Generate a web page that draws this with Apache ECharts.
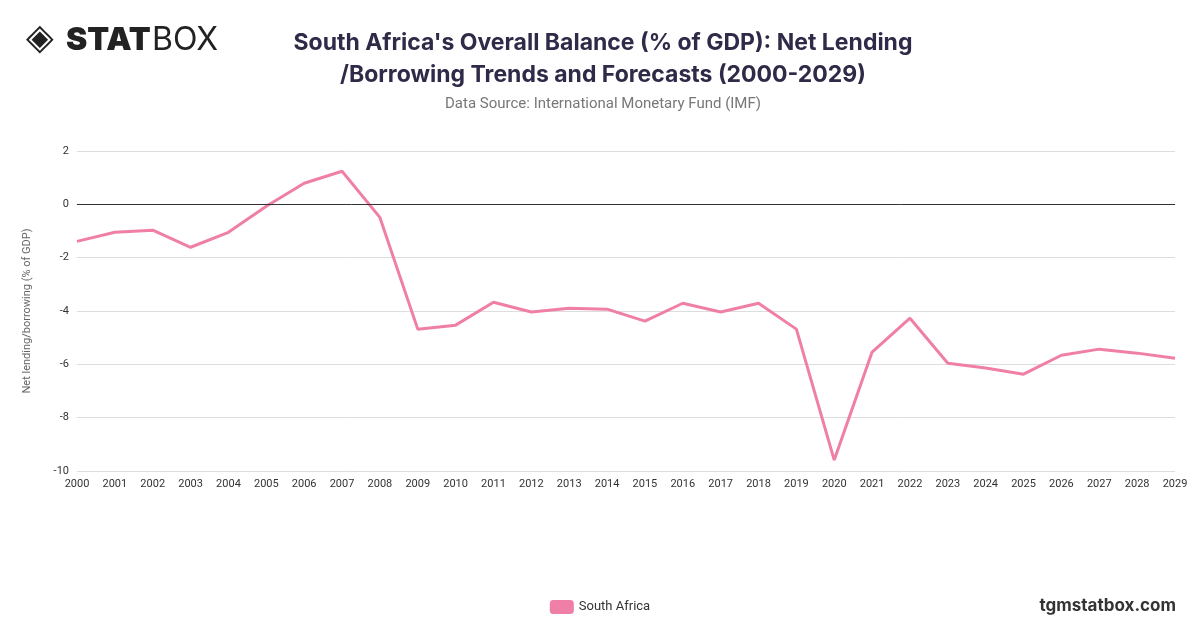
<!DOCTYPE html>
<html><head><meta charset="utf-8">
<script src="https://cdn.jsdelivr.net/npm/echarts@6/dist/echarts.min.js"></script>
<style>html,body{margin:0;padding:0;background:#fff}#c{width:1200px;height:628px}</style>
</head><body><div id="c"></div>
<script>
const years = ['2000','2001','2002','2003','2004','2005','2006','2007','2008','2009','2010','2011','2012','2013','2014','2015','2016','2017','2018','2019','2020','2021','2022','2023','2024','2025','2026','2027','2028','2029'];
const southAfrica = [-1.39,-1.05,-0.97,-1.61,-1.05,-0.07,0.79,1.24,-0.49,-4.68,-4.53,-3.67,-4.04,-3.9,-3.93,-4.38,-3.71,-4.04,-3.71,-4.68,-9.59,-5.54,-4.27,-5.96,-6.14,-6.37,-5.66,-5.43,-5.58,-5.77];
const chart = echarts.init(document.getElementById('c'));
chart.setOption({
  animation:false,
  title:[{text:"South Africa's Overall Balance (% of GDP): Net Lending\n/Borrowing Trends and Forecasts (2000-2029)",left:598,textAlign:'center',top:22,
    textStyle:{fontFamily:'Inter',fontSize:23,fontWeight:'bold',color:'#2e2a47',lineHeight:32}},
    {text:'Data Source: International Monetary Fund (IMF)',left:598,textAlign:'center',top:92,textStyle:{fontFamily:'Roboto',fontSize:15,fontWeight:'normal',color:'#777'}}],
  graphic:[
    {type:'text',left:26,top:22,style:{text:'◈',font:'bold 36px DejaVu Sans',fill:'#222'}},
    {type:'text',left:66,top:24,style:{text:'STAT',font:'900 32px Inter',fill:'#222'}},
    {type:'text',left:152,top:24,style:{text:'BOX',font:'400 32px Inter',fill:'#222'}},
    {type:'text',right:24,top:597,style:{text:'tgmstatbox.com',font:'bold 17px Inter',fill:'#333'}}
  ],
  grid:{left:77,right:25,top:151,bottom:157},
  xAxis:{type:'category',data:years,boundaryGap:false,
    axisLine:{lineStyle:{color:'#ccc'}},axisTick:{show:false},
    axisLabel:{color:'#333',fontSize:11,fontFamily:'Roboto',interval:0}},
  yAxis:{type:'value',min:-10,max:2,interval:2,name:'Net lending/borrowing (% of GDP)',nameLocation:'middle',nameGap:44,
    nameTextStyle:{color:'#666',fontSize:11,fontFamily:'Roboto'},
    axisLabel:{color:'#333',fontSize:11,fontFamily:'Roboto'},
    splitLine:{lineStyle:{color:'#ddd'}}},
  legend:{bottom:9,left:'center',icon:'roundRect',itemWidth:24,itemHeight:14,textStyle:{color:'#333',fontSize:13,fontFamily:'Roboto'}},
  series:[{name:'South Africa',type:'line',data:southAfrica,symbol:'none',
    lineStyle:{color:'#f07fa8',width:3},itemStyle:{color:'#f07fa8'},
    markLine:{silent:true,symbol:'none',label:{show:false},lineStyle:{color:'#333',width:1,type:'solid'},data:[{yAxis:0}]}}]
});
</script></body></html>
